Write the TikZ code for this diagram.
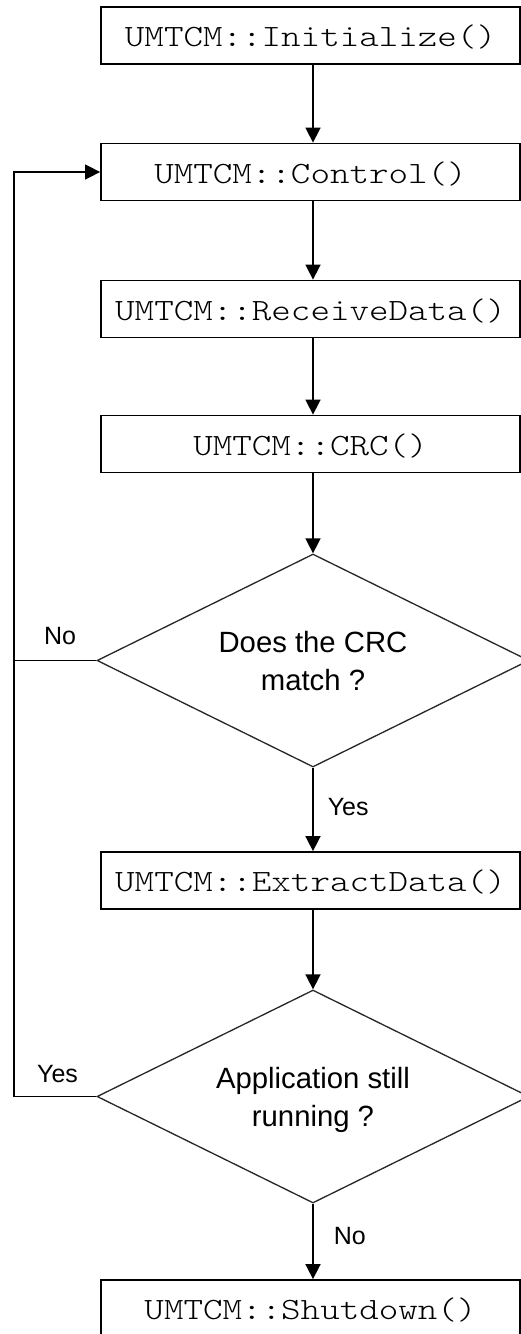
\documentclass[tikz,border=0pt]{standalone}
\usepackage{fontspec}
\setmainfont{Liberation Sans}
\newfontfamily\codefont[Extension=.otf, FakeStretch=1.2]{lmmonolt10-regular}
\usetikzlibrary{shapes.geometric,arrows.meta}

\tikzset{
  procbox/.style={draw=black, line width=1.8pt, rectangle, inner sep=0pt,
    minimum width=419pt, minimum height=57pt, fill=white,
    font=\codefont\fontsize{31}{38}\selectfont, text height=24pt, text depth=1.6pt},
  decision/.style={draw=black!85, line width=1.3pt, diamond, aspect=2.03, inner sep=0pt,
    minimum width=432pt, minimum height=213pt, align=center, text depth=0pt,
    font=\fontsize{29.3}{38}\selectfont},
  flow/.style={line width=1.6pt, draw=black, -{Triangle[width=15pt,length=15pt]}},
  plain/.style={line width=1.6pt, draw=black},
  branch/.style={font=\fontsize{25}{30}\selectfont, inner sep=0pt}
}

\begin{document}
\begin{tikzpicture}[x=1pt, y=-1pt]
  \useasboundingbox (0,0) rectangle (521,1334);
  \clip (0,0) rectangle (521,1334);
  \fill[white] (0,0) rectangle (521,1334);

  % process boxes and decisions
  \node[procbox] (init) at (310.5,35.5)   {UMTCM::Initialize()};
  \node[procbox] (ctrl) at (310.5,172)    {UMTCM::Control()};
  \node[procbox] (recv) at (310.5,309)    {UMTCM::ReceiveData()};
  \node[procbox] (crc)  at (310.5,444)    {UMTCM::CRC()};
  \node[decision] (match) at (313,660.5)  {Does the CRC\\match ?};
  \node[procbox] (extr) at (310.5,880.5)  {UMTCM::ExtractData()};
  \node[decision] (run) at (313,1096.5)   {Application still\\running ?};
  \node[procbox] (shut) at (310.5,1308.5) {UMTCM::Shutdown()};

  % left return line
  \coordinate (loopx) at (14,0);

  % main flow down the middle
  \draw[flow] (init.south -| match.north) -- (ctrl.north -| match.north);
  \draw[flow] (ctrl.south -| match.north) -- (recv.north -| match.north);
  \draw[flow] (recv.south -| match.north) -- (crc.north -| match.north);
  \draw[flow] (crc.south -| match.north) -- (match.north);
  \draw[flow] (match.south) -- node[branch, right=14pt, pos=0.47] {Yes} (extr.north -| match.south);
  \draw[flow] (extr.south -| run.north) -- (run.north);
  \draw[flow] (run.south) -- node[branch, right=20pt, pos=0.43] {No} (shut.north -| run.south);

  % loop back to the control step
  \draw[flow] (run.west) -- (run.west -| loopx) -- (ctrl.west -| loopx) -- (ctrl.west);
  \draw[plain] (match.west) -- (match.west -| loopx);

  % branch labels on the left
  \node[branch] (nolbl)  at (60,636)   {No};
  \node[branch] (yeslbl) at (57.5,1074) {Yes};
\end{tikzpicture}
\end{document}
